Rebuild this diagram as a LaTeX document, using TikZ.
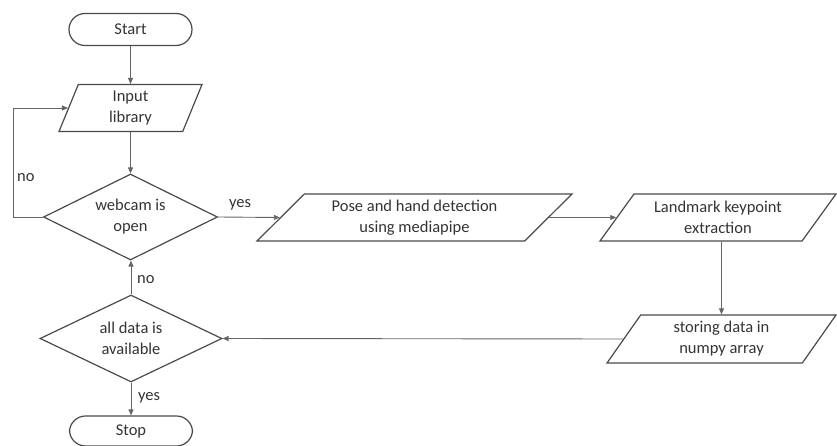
\documentclass[tikz,border=0pt]{standalone}
\usepackage{fontspec}
\setmainfont{Carlito}
\usetikzlibrary{shapes.geometric,arrows.meta}
\definecolor{lineC}{HTML}{4A4A4A}
\definecolor{textC}{HTML}{333333}
\begin{document}
\begin{tikzpicture}[x=1pt,y=-1pt,
  every node/.style={font=\fontsize{16.5}{21}\selectfont, text=textC, align=center, inner sep=0pt},
  shapeline/.style={draw=lineC, line width=1.2pt},
  term/.style={shapeline, rectangle, rounded corners=16pt, minimum width=123pt, minimum height=32pt},
  io/.style={shapeline, trapezium, trapezium stretches body, minimum height=47pt},
  decision/.style={shapeline, diamond, aspect=2},
  conn/.style={draw=lineC!85, line width=0.9pt, -{Triangle[length=6pt,width=5pt]}},
  lbl/.style={anchor=west}
]
\useasboundingbox (0,0) rectangle (837,446);
\node[term] (start) at (130.5,29.5) {Start};
\node[io, trapezium left angle=60.6, trapezium right angle=119.4, minimum width=143pt] (input) at (130.5,108) {Input\\library};
\node[decision, minimum width=174pt, minimum height=86pt] (webcam) at (130.5,217) {webcam is\\open};
\node[io, trapezium left angle=36.7, trapezium right angle=143.3, minimum width=315pt] (pose) at (414.5,217.5) {Pose and hand detection\\using mediapipe};
\node[io, trapezium left angle=43.8, trapezium right angle=136.2, minimum width=236pt] (land) at (718,217.5) {Landmark keypoint\\extraction};
\node[io, trapezium left angle=46.2, trapezium right angle=133.8, minimum width=229pt, minimum height=48pt] (store) at (721.5,339) {storing data in\\numpy array};
\node[decision, minimum width=182pt, minimum height=87pt] (alldata) at (131,338.5) {all data is\\available};
\node[term, minimum height=30pt] (stop) at (131,431) {Stop};

\coordinate (fb) at (13,217);

\draw[conn] (start) -- (input);
\draw[conn] (input.south) -- (input.south |- webcam.north);
\draw[conn] (webcam.west) -- (fb) |- (input.west);
\draw[conn] (webcam.east) -- (pose.west);
\draw[conn] (pose.east) -- (land.west);
\draw[conn] (store.north |- land.south) -- (store.north);
\draw[conn] (store.west) -- (alldata.east);
\draw[conn] (alldata.north) -- (alldata.north |- webcam.south);
\draw[conn] (alldata.south) -- (stop.north);

\node[lbl] (lno1) at (17,178) {no};
\node[lbl] (lyes1) at (229,205) {yes};
\node[lbl] (lno2) at (137,280) {no};
\node[lbl] (lyes2) at (138,398) {yes};
\end{tikzpicture}
\end{document}
